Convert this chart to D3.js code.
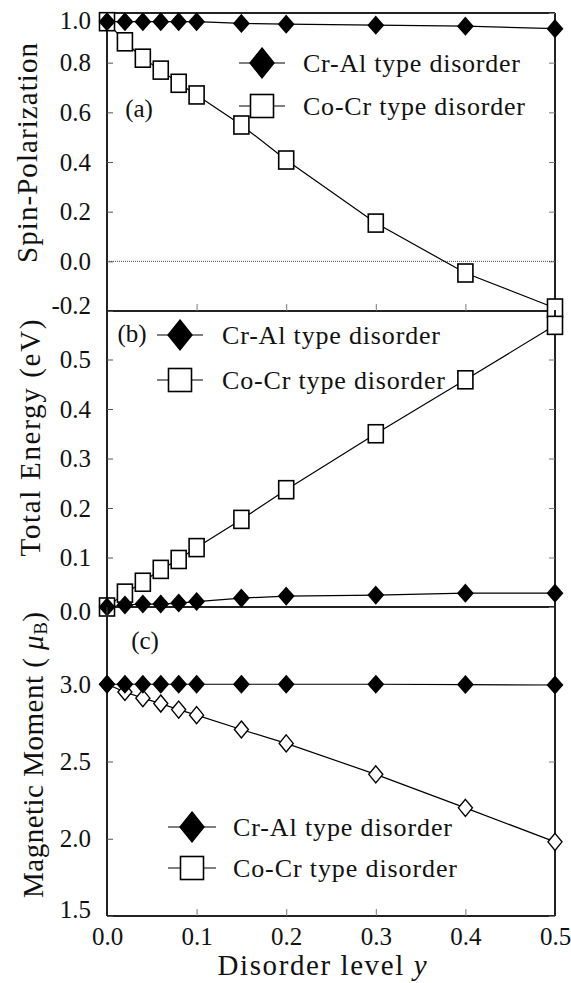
<!DOCTYPE html>
<html>
<head>
<meta charset="utf-8">
<script src="https://cdn.jsdelivr.net/npm/d3@7"></script>
<style>
  html, body { margin: 0; padding: 0; background: #fff; }
  svg { display: block; }
  text { font-family: "Liberation Serif", "DejaVu Serif", serif; fill: #111; }
</style>
</head>
<body>
<script>
// ---------------- data ----------------
const disorderLevels = [0, 0.02, 0.04, 0.06, 0.08, 0.10, 0.15, 0.20, 0.30, 0.40, 0.50];
const seriesNames = ["Cr-Al type disorder", "Co-Cr type disorder"];

const spinCrAl = [0.965, 0.965, 0.965, 0.965, 0.965, 0.965, 0.958, 0.955, 0.951, 0.947, 0.937];
const spinCoCr = [0.965, 0.884, 0.818, 0.770, 0.717, 0.670, 0.549, 0.408, 0.154, -0.047, -0.188];

const energyCrAl = [0.000, 0.004, 0.006, 0.006, 0.008, 0.011, 0.018, 0.022, 0.024, 0.028, 0.028];
const energyCoCr = [0.000, 0.028, 0.050, 0.076, 0.096, 0.120, 0.177, 0.237, 0.350, 0.459, 0.569];

const momentCrAl = [3.000, 3.000, 3.000, 3.000, 3.000, 3.000, 3.000, 3.000, 3.000, 2.998, 2.995];
const momentCoCr = [3.000, 2.950, 2.910, 2.875, 2.836, 2.800, 2.707, 2.617, 2.417, 2.200, 1.980];

const xTicks = [0, 0.1, 0.2, 0.3, 0.4, 0.5];
const spinTicks = [-0.2, 0, 0.2, 0.4, 0.6, 0.8, 1.0];
const energyTicks = [0, 0.1, 0.2, 0.3, 0.4, 0.5];
const momentTicks = [1.5, 2.0, 2.5, 3.0];

// ---------------- layout ----------------
const W = 571, H = 983;
const L = 107, R = 555;
const FONT = '"Liberation Serif", "DejaVu Serif", serif';
const svg = d3.select("body").append("svg").attr("width", W).attr("height", H);

const x = d3.scaleLinear().domain([0, 0.5]).range([L, R]);

const panels = [
  { key: "a", label: "(a)", labelPos: [139, 108], title: "Spin-Polarization", titlePos: [27, 153], titleLen: 220,
    y: d3.scaleLinear().domain([-0.2, 1.0]).range([311, 13]),
    ticks: spinTicks, filled: spinCrAl, open: spinCoCr, labelShift: { "-0.2": -6, "1": 7 },
    openShape: "square", bottomTicks: true, zeroLine: true, topBorder: true,
    legend: { x: 262, y1: 63, y2: 106, lineHalf: 23, textX: 303, lens: [217, 222] } },
  { key: "b", label: "(b)", labelPos: [132, 333], title: "Total Energy (eV)", titlePos: [30, 438], titleLen: 237,
    y: d3.scaleLinear().domain([0, 0.6]).range([607, 310]),
    ticks: energyTicks, filled: energyCrAl, open: energyCoCr, labelShift: { "0": 4 },
    openShape: "square", bottomTicks: false, zeroLine: false, topBorder: false,
    legend: { x: 180, y1: 335, y2: 380, lineHalf: 23, textX: 222, lens: [218, 223] } },
  { key: "c", label: "(c)", labelPos: [145, 640], title: null, titlePos: [33, 755], titleLen: 286,
    y: d3.scaleLinear().domain([1.5, 3.5]).range([916, 607]),
    ticks: momentTicks, filled: momentCrAl, open: momentCoCr, labelShift: { "1.5": -7 },
    openShape: "diamond", bottomTicks: true, zeroLine: false, topBorder: false,
    legend: { x: 192, y1: 827, y2: 868, lineHalf: 24, textX: 233, lens: [219, 224] } }
];

const axisColor = "#222";
const fmt = d => d3.format(".1f")(d).replace("\u2212", "-");
const diamond = (w, h) => `M0,${-h}L${w},0L0,${h}L${-w},0Z`;

function drawMarker(g, shape, filled, cx, cy, w, h) {
  if (shape === "diamond") {
    g.append("path").attr("d", diamond(w, h))
      .attr("transform", `translate(${cx},${cy})`)
      .attr("fill", filled ? "#000" : "#fff")
      .attr("stroke", "#000").attr("stroke-width", 1.4);
  } else {
    g.append("rect").attr("x", cx - w).attr("y", cy - h)
      .attr("width", 2 * w).attr("height", 2 * h)
      .attr("fill", "#fff").attr("stroke", "#000").attr("stroke-width", 1.6);
  }
}

panels.forEach(p => {
  const g = svg.append("g").attr("class", "panel-" + p.key);
  const [y0, y1] = p.y.range();

  // frame
  g.append("line").attr("x1", L).attr("x2", L).attr("y1", y1).attr("y2", y0)
    .attr("stroke", axisColor).attr("stroke-width", 2);
  g.append("line").attr("x1", R).attr("x2", R).attr("y1", y1).attr("y2", y0)
    .attr("stroke", axisColor).attr("stroke-width", 2);
  g.append("line").attr("x1", L).attr("x2", R).attr("y1", y0).attr("y2", y0)
    .attr("stroke", axisColor).attr("stroke-width", 2);
  if (p.topBorder) {
    g.append("line").attr("x1", L).attr("x2", R).attr("y1", y1).attr("y2", y1)
      .attr("stroke", axisColor).attr("stroke-width", 2);
  }

  // y axis (left) with inward ticks
  const yAxisL = d3.axisLeft(p.y).tickValues(p.ticks).tickFormat(fmt)
    .tickSizeInner(-6).tickSizeOuter(0).tickPadding(16);
  const ga = g.append("g").attr("transform", `translate(${L},0)`).call(yAxisL);
  ga.attr("font-family", null);
  ga.select(".domain").remove();
  ga.selectAll(".tick line").attr("stroke", "#555").attr("stroke-width", 1);
  ga.selectAll(".tick text").style("font-family", FONT)
    .style("font-size", "25px").attr("fill", "#111")
    .attr("y", d => p.labelShift[String(d)] || 0);

  // right side inward ticks
  const yAxisR = d3.axisRight(p.y).tickValues(p.ticks).tickFormat("")
    .tickSizeInner(-6).tickSizeOuter(0);
  const gr = g.append("g").attr("transform", `translate(${R},0)`).call(yAxisR);
  gr.select(".domain").remove();
  gr.selectAll(".tick line").attr("stroke", "#777").attr("stroke-width", 1);

  // bottom inward ticks
  if (p.bottomTicks) {
    const xAxis = d3.axisBottom(x).tickValues(xTicks.slice(1, -1)).tickFormat("")
      .tickSizeInner(-7).tickSizeOuter(0);
    const gx = g.append("g").attr("transform", `translate(0,${y0})`).call(xAxis);
    gx.select(".domain").remove();
    gx.selectAll(".tick line").attr("stroke", "#777").attr("stroke-width", 1);
  }

  if (p.zeroLine) {
    g.append("line").attr("x1", L).attr("x2", R).attr("y1", p.y(0)).attr("y2", p.y(0))
      .attr("stroke", "#444").attr("stroke-width", 1).attr("stroke-dasharray", "1,1");
  }

  // lines
  const line = d3.line().x((d, i) => x(disorderLevels[i])).y(d => p.y(d));
  g.append("path").datum(p.open).attr("d", line).attr("fill", "none")
    .attr("stroke", "#000").attr("stroke-width", 1.2);
  g.append("path").datum(p.filled).attr("d", line).attr("fill", "none")
    .attr("stroke", "#000").attr("stroke-width", 1.2);

  // markers
  p.open.forEach((v, i) => {
    if (p.openShape === "square") drawMarker(g, "square", false, x(disorderLevels[i]), p.y(v), 7.5, 9);
    else drawMarker(g, "diamond", false, x(disorderLevels[i]), p.y(v), 7, 8.5);
  });
  p.filled.forEach((v, i) => {
    drawMarker(g, "diamond", true, x(disorderLevels[i]), p.y(v), 7.5, 8.5);
  });

  // panel label
  g.append("text").attr("x", p.labelPos[0]).attr("y", p.labelPos[1])
    .attr("text-anchor", "middle").attr("dominant-baseline", "central")
    .style("font-size", "25px").text(p.label);

  // legend
  const lg = p.legend;
  [lg.y1, lg.y2].forEach((ly, k) => {
    g.append("line").attr("x1", lg.x - lg.lineHalf).attr("x2", lg.x + lg.lineHalf)
      .attr("y1", ly).attr("y2", ly).attr("stroke", "#000").attr("stroke-width", 1.2);
    if (k === 0) drawMarker(g, "diamond", true, lg.x, ly, 12, 15);
    else drawMarker(g, "square", false, lg.x, ly, 11.5, 11.5);
    g.append("text").attr("x", lg.textX).attr("y", ly)
      .attr("dominant-baseline", "central").style("font-size", "26px")
      .attr("textLength", lg.lens[k]).attr("lengthAdjust", "spacing")
      .text(seriesNames[k]);
  });

  // y title
  const t = g.append("text")
    .attr("transform", `translate(${p.titlePos[0]},${p.titlePos[1]}) rotate(-90)`)
    .attr("text-anchor", "middle").attr("dominant-baseline", "central")
    .attr("textLength", p.titleLen).attr("lengthAdjust", "spacing")
    .style("font-size", "29px");
  if (p.title) t.text(p.title);
  else {
    t.append("tspan").text("Magnetic Moment ( ");
    t.append("tspan").style("font-style", "italic").text("\u03bc");
    t.append("tspan").attr("dy", 7).style("font-size", "19px").text("B");
    t.append("tspan").attr("dy", -7).text(")");
  }
});

// bottom x axis labels
const pc = panels[2];
const xAxisB = d3.axisBottom(x).tickValues(xTicks).tickFormat(fmt)
  .tickSize(0).tickPadding(11);
const gxb = svg.append("g").attr("transform", `translate(0,${pc.y.range()[0]})`).call(xAxisB);
gxb.attr("font-family", null);
gxb.select(".domain").remove();
gxb.selectAll(".tick text").style("font-family", FONT)
  .style("font-size", "25px").attr("fill", "#111");

const xt = svg.append("text").attr("x", 322).attr("y", 965)
  .attr("text-anchor", "middle").attr("dominant-baseline", "central")
  .attr("textLength", 209).attr("lengthAdjust", "spacing")
  .style("font-size", "29px");
xt.append("tspan").text("Disorder level  ");
xt.append("tspan").style("font-style", "italic").text("y");
</script>
</body>
</html>
